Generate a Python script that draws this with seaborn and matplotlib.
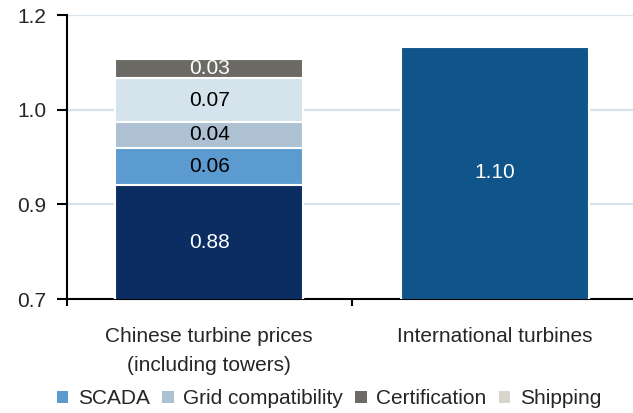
import numpy as np
import pandas as pd
import matplotlib
matplotlib.use("Agg")
import matplotlib.pyplot as plt
from matplotlib.patches import Patch
import seaborn as sns

# ── data ────────────────────────────────────────────────────
categories = ["Chinese turbine prices\n(including towers)", "International turbines"]
base_values = [0.88, 1.10]
base_colors = ["#0c2d62", "#10558a"]

# stacked add-ons on top of the Chinese price
stack_names = ["SCADA", "Grid compatibility", "Other", "Certification"]
stack_values = [0.06, 0.04, 0.07, 0.03]
stack_colors = ["#5b9bd0", "#adc1d3", "#d5e3ec", "#6b6a65"]
stack_text = ["black", "black", "black", "white"]

legend_names = ["SCADA", "Grid compatibility", "Certification", "Shipping"]
legend_colors = ["#5b9bd0", "#adc1d3", "#6b6a65", "#d8d5cf"]

# ── style ───────────────────────────────────────────────────
sns.set_theme(style="white")
plt.rcParams["font.family"] = ["Liberation Sans", "DejaVu Sans"]
FS = 15

fig = plt.figure(figsize=(6.33, 4.13), dpi=100)
ax = fig.add_axes([67 / 633, 114 / 413, 1 - 67 / 633, 284 / 413])

BAR_W = 0.66
chinese = categories[0]

# cumulative tops, drawn tallest first so lower layers cover them
cum = base_values[0] + np.cumsum(stack_values)
for top, color in reversed(list(zip(cum, stack_colors))):
    sns.barplot(x=[chinese], y=[top], order=categories, color=color, saturation=1,
                width=BAR_W, edgecolor="white", linewidth=1.5, ax=ax, zorder=3)

base_df = pd.DataFrame({"cat": categories, "val": base_values})
sns.barplot(data=base_df, x="cat", y="val", hue="cat", palette=base_colors,
            order=categories, legend=False, width=BAR_W, saturation=1,
            edgecolor="white", linewidth=1.5, ax=ax, zorder=3)

# value labels
for i, v in enumerate(base_values):
    ax.text(i, 0.7 + (v - 0.7) / 2, f"{v:.2f}", ha="center", va="center",
            color="white", fontsize=FS, zorder=5)
for top, v, tc in zip(cum, stack_values, stack_text):
    ax.text(0, top - v / 2, f"{v:.2f}", ha="center", va="center",
            color=tc, fontsize=FS, zorder=5)

# ── axes ────────────────────────────────────────────────────
ax.set_ylim(0.7, 1.15)
ax.set_xlim(-0.497, 1.483)
yt = [0.7, 0.85, 1.0, 1.15]
ax.set_yticks(yt)
ax.set_yticklabels(["0.7", "0.9", "1.0", "1.2"], fontsize=FS)
for y in yt[1:]:
    ax.axhline(y, color="#d6e3ec", lw=1.6, zorder=1)

ax.set_xticks([0, 1])
ax.set_xticklabels(categories, fontsize=FS, linespacing=1.7, va="top")
ax.tick_params(axis="x", length=0, pad=20)
ax.set_xticks([-0.497, 0.5], minor=True)
ax.tick_params(axis="x", which="minor", length=5, width=1.5, color="black", bottom=True)
ax.tick_params(axis="y", length=7, width=1.5, color="black", left=True, pad=8)
ax.set_xlabel("")
ax.set_ylabel("")

for s in ["top", "right"]:
    ax.spines[s].set_visible(False)
for s in ["left", "bottom"]:
    ax.spines[s].set_color("black")
    ax.spines[s].set_linewidth(1.5)

handles = [Patch(facecolor=c, edgecolor="none") for c in legend_colors]
fig.legend(handles, legend_names, loc="center", bbox_to_anchor=(329 / 633, 1 - 399 / 413),
           ncol=4, frameon=False, fontsize=FS, handlelength=0.55, handleheight=0.55,
           handletextpad=0.45, columnspacing=0.6, borderpad=0)

fig.savefig("out.png", dpi=100)
